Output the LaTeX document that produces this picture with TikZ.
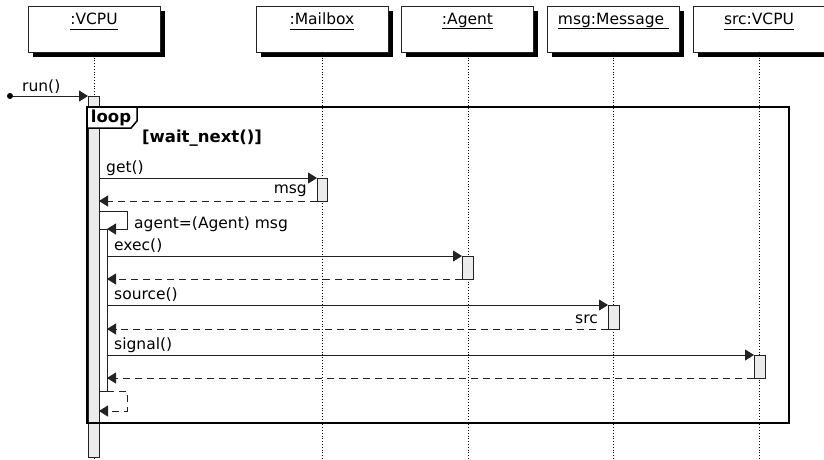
\documentclass[tikz,border=0pt]{standalone}
\usepackage{fontspec}
\setmainfont{DejaVu Sans}
\usetikzlibrary{arrows.meta,shadows}
\definecolor{barfill}{HTML}{EBEBEB}
\definecolor{ln}{HTML}{222222}
\tikzset{
  hdr/.style={draw=ln, line width=0.9pt, fill=white, minimum width=132pt, minimum height=46pt,
    inner sep=0pt, outer sep=0pt,
    drop shadow={fill=black, opacity=1, shadow xshift=4.5pt, shadow yshift=-4.5pt}},
  hdrtext/.style={inner sep=0pt, anchor=center},
  life/.style={line width=0.8pt, dotted},
  actbar/.style={draw=ln, line width=0.9pt, fill=barfill, inner sep=0pt, outer sep=0pt, anchor=north west},
  nestbar/.style={actbar, fill=white},
  msgarrow/.style={draw=ln, line width=1pt, -{Triangle[length=9pt,width=11pt]}},
  retarrow/.style={msgarrow, dash pattern=on 7pt off 5pt},
  lbl/.style={inner sep=0pt},
  boldlbl/.style={inner sep=0pt, font=\fontsize{16.5pt}{19pt}\selectfont\bfseries},
}
\begin{document}
\begin{tikzpicture}[x=1pt,y=-1pt, font=\fontsize{15.5pt}{18pt}\selectfont]
\useasboundingbox (0,0) rectangle (824,459);

% headers
\node[hdr] (h1) at (94,29) {};
\node[hdr] (h2) at (322,29) {};
\node[hdr] (h3) at (467.5,29) {};
\node[hdr] (h4) at (613.5,29) {};
\node[hdr] (h5) at (759,29) {};
\node[hdrtext] (t1) at (94,21) {\underline{\vphantom{g}:VCPU}};
\node[hdrtext] (t2) at (322,21) {\underline{\vphantom{g}:Mailbox}};
\node[hdrtext] (t3) at (467.5,21) {\underline{\vphantom{g}:Agent}};
\node[hdrtext] (t4) at (613.5,21) {\underline{\vphantom{g}msg:Message\ }};
\node[hdrtext] (t5) at (759,21) {\underline{\vphantom{g}src:VCPU}};

% lifelines
\coordinate (e1) at (94,459);
\coordinate (e2) at (322,459);
\coordinate (e3) at (468,459);
\coordinate (e4) at (613,459);
\coordinate (e5) at (759,459);
\draw[life] (h1.south) -- (e1);
\draw[life] (h2.south) -- (e2);
\draw[life] (468,52) coordinate (s3) -- (e3);
\draw[life] (613,52) coordinate (s4) -- (e4);
\draw[life] (h5.south) -- (e5);

% outer activation bar of VCPU
\node[actbar, minimum width=11pt, minimum height=361pt] (vbar) at (88,96) {};

% run()
\node[circle, fill=black, inner sep=0pt, minimum size=6pt] (start) at (10,96) {};
\draw[msgarrow] (start) -- (vbar.north west);
\node[lbl, anchor=west] (lrun) at (22,87) {run()};

% loop frame
\draw[line width=2pt, draw=black] (87,107) rectangle (789,423);
\draw[line width=1.5pt, fill=white] (87,107) -- (137,107) -- (137,121) -- (131,128) -- (87,128) -- cycle;
\node[boldlbl] (lloop) at (111,118) {loop};
\node[boldlbl] (guard) at (202,138) {[wait\_next()]};

% get()
\node[actbar, minimum width=10pt, minimum height=23pt] (mbar) at (317,178) {};
\draw[msgarrow] (vbar.east |- mbar.north) -- (mbar.north west);
\node[lbl, anchor=west] (lget) at (106,168) {get()};
\draw[retarrow] (mbar.south west) -- (vbar.east |- mbar.south);
\node[lbl, anchor=east] (lmsg) at (307,191) {msg};

% nested activation
\node[nestbar, minimum width=8pt, minimum height=162pt] (nbar) at (99,229) {};
\coordinate (selfa) at (127,211);
\draw[msgarrow] (vbar.east |- selfa) -- (selfa) |- (nbar.north east);
\node[lbl, anchor=west] (lagent) at (134,224) {agent=(Agent) msg};

% exec()
\node[actbar, minimum width=11pt, minimum height=23pt] (abar) at (462,256) {};
\draw[msgarrow] (nbar.east |- abar.north) -- (abar.north west);
\node[lbl, anchor=west] (lexec) at (114,246) {exec()};
\draw[retarrow] (abar.south west) -- (nbar.east |- abar.south);

% source()
\node[actbar, minimum width=11pt, minimum height=24pt] (msbar) at (608,305) {};
\draw[msgarrow] (nbar.east |- msbar.north) -- (msbar.north west);
\node[lbl, anchor=west] (lsource) at (114,295) {source()};
\draw[retarrow] (msbar.south west) -- (nbar.east |- msbar.south);
\node[lbl, anchor=east] (lsrc) at (598,319) {src};

% signal()
\node[actbar, minimum width=11pt, minimum height=23pt] (sbar) at (754,355) {};
\draw[msgarrow] (nbar.east |- sbar.north) -- (sbar.north west);
\node[lbl, anchor=west] (lsignal) at (114,345) {signal()};
\draw[retarrow] (sbar.south west) -- (nbar.east |- sbar.south);

% self return
\coordinate (selfb) at (127,411);
\draw[retarrow] (nbar.south east) -| (selfb) -- (vbar.east |- selfb);
\end{tikzpicture}
\end{document}
